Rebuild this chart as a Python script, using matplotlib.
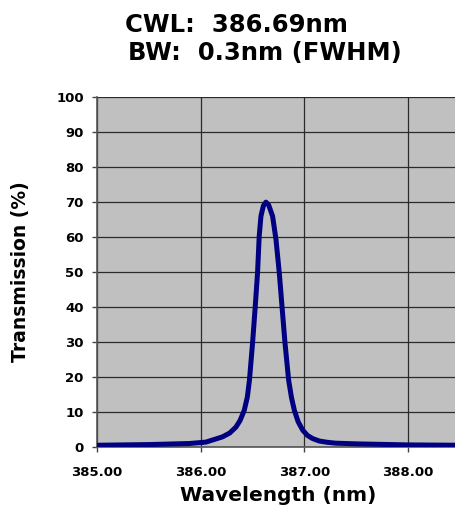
import matplotlib.pyplot as plt

# Transmission curve
wavelength = [385.00, 385.50, 385.89, 386.05, 386.21, 386.28, 386.34, 386.38,
              386.42, 386.45, 386.47, 386.50, 386.526, 386.548, 386.564,
              386.581, 386.605, 386.629, 386.655, 386.693, 386.726, 386.758,
              386.784, 386.813, 386.848, 386.875, 386.903, 386.94, 386.984,
              387.03, 387.08, 387.145, 387.22, 387.30, 387.50, 388.00, 388.50]
transmission = [0.5, 0.7, 1.0, 1.4, 2.9, 4.0, 5.7, 7.6,
                10.5, 14.3, 19.1, 29.7, 40.2, 49.7, 60.2,
                66.0, 69.0, 70.0, 69.2, 66.0, 59.3, 49.7,
                40.2, 29.7, 19.1, 14.2, 10.5, 7.2, 4.8,
                3.3, 2.4, 1.7, 1.35, 1.1, 0.9, 0.6, 0.5]

x_ticks = [385.0, 386.0, 387.0, 388.0]
y_ticks = list(range(0, 101, 10))

plt.rcParams["font.family"] = ["DejaVu Sans"]
plt.rcParams["font.weight"] = "bold"

fig = plt.figure(figsize=(4.56, 5.16), dpi=100)
ax = fig.add_axes([0.2127, 0.1337, 0.796, 0.678])
ax.set_facecolor("#C0C0C0")

ax.plot(wavelength, transmission, color="#000080", linewidth=3.6,
        solid_joinstyle="round", solid_capstyle="round", zorder=3)

ax.set_xlim(385.0, 388.5)
ax.set_ylim(0, 100)
ax.set_xticks(x_ticks)
ax.set_xticklabels([f"{v:.2f}" for v in x_ticks])
ax.set_yticks(y_ticks)
ax.tick_params(labelsize=9.5, length=3.5, width=1, color="#444444")
ax.tick_params(axis="x", pad=10)
ax.tick_params(axis="y", pad=6)
for lab in ax.get_xticklabels() + ax.get_yticklabels():
    lab.set_fontweight("bold")

ax.grid(True, color="#2a2a2a", linewidth=0.9, zorder=1)
ax.set_axisbelow(True)
for side in ["top", "right"]:
    ax.spines[side].set_visible(False)
for side in ["left", "bottom"]:
    ax.spines[side].set_color("#555555")
    ax.spines[side].set_linewidth(1.2)

ax.set_xlabel("Wavelength (nm)", fontsize=14.5, fontweight="bold", labelpad=5)
ax.set_ylabel("Transmission (%)", fontsize=13.5, fontweight="bold", labelpad=19)

fig.text(125 / 456, 1 - 32 / 516, "CWL:  386.69nm", fontsize=17.5,
         fontweight="bold", ha="left", va="baseline")
fig.text(128 / 456, 1 - 60 / 516, "BW:  0.3nm (FWHM)", fontsize=17.5,
         fontweight="bold", ha="left", va="baseline")

plt.savefig("out.png", dpi=100)
